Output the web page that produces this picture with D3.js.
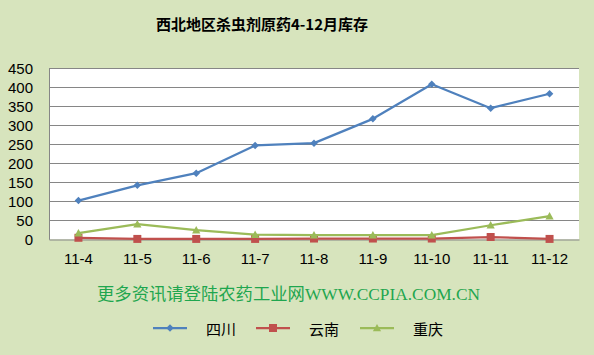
<!DOCTYPE html>
<html><head><meta charset="utf-8">
<script src="https://cdn.jsdelivr.net/npm/d3@7"></script>
<style>html,body{margin:0;padding:0;background:#D7E4BD;}svg{display:block;}</style>
</head><body>
<svg id="c" width="594" height="355"></svg>
<script>
const categories = ["11-4","11-5","11-6","11-7","11-8","11-9","11-10","11-11","11-12"];
const sichuan   = [102,142,174,247,253,317,408,345,383];
const yunnan    = [4,1,1,1,2,2,2,6,1];
const chongqing = [16,40,24,12,11,11,11,37,61];
const seriesNames = ["四川","云南","重庆"];
const yTicks = [0,50,100,150,200,250,300,350,400,450];
const titleText = "西北地区杀虫剂原药4-12月库存";
const footerText = "更多资讯请登陆农药工业网WWW.CCPIA.COM.CN";

const colors = ["#4F81BD","#C0504D","#9BBB59"];
const series = [sichuan, yunnan, chongqing];

const svg = d3.select("#c");
svg.append("rect").attr("width",594).attr("height",355).attr("fill","#D7E4BD");

const L=49, R=579, T=68.3, B=239.3;
const x = d3.scaleBand().domain(categories).range([L,R]).padding(0);
const y = d3.scaleLinear().domain([0,450]).range([B,T]);

svg.append("rect").attr("x",L).attr("y",T).attr("width",R-L).attr("height",B-T).attr("fill","#fff");

// gridlines
svg.append("g").selectAll("line").data(yTicks.filter(d=>d>0)).join("line")
  .attr("x1",L).attr("x2",R).attr("y1",d=>Math.round(y(d))+0.5).attr("y2",d=>Math.round(y(d))+0.5)
  .attr("stroke","#868686").attr("stroke-width",1);

// axes
const yAxis = svg.append("g").attr("transform",`translate(${L},0)`)
  .call(d3.axisLeft(y).tickValues(yTicks).tickSize(0).tickPadding(16));
yAxis.select(".domain").attr("stroke","#868686");
yAxis.selectAll("text").attr("font-family","'Liberation Sans', Arial, sans-serif").attr("font-size","15px").attr("fill","#000");

const xAxis = svg.append("g").attr("transform",`translate(0,${Math.round(B)+0.5})`)
  .call(d3.axisBottom(x).tickSize(0).tickPadding(14));
xAxis.select(".domain").attr("stroke","#868686");
xAxis.selectAll("text").attr("font-family","'Liberation Sans', Arial, sans-serif").attr("font-size","15px").attr("fill","#000");

// symbols
const diamond = {draw(ctx,size){const r=Math.sqrt(size)/2*1.25;ctx.moveTo(0,-r);ctx.lineTo(r,0);ctx.lineTo(0,r);ctx.lineTo(-r,0);ctx.closePath();}};
const square = {draw(ctx,size){const r=Math.sqrt(size)/2;ctx.rect(-r,-r,2*r,2*r);}};
const tri = {draw(ctx,size){const r=Math.sqrt(size)/2*1.1;ctx.moveTo(0,-r);ctx.lineTo(r,r*0.8);ctx.lineTo(-r,r*0.8);ctx.closePath();}};
const symTypes=[diamond,square,tri];
const symSizes=[36,64,56];

const line = d3.line().x((d,i)=>x(categories[i])+x.bandwidth()/2).y(d=>y(d));
series.forEach((s,k)=>{
  const g = svg.append("g");
  g.append("path").datum(s).attr("d",line).attr("fill","none").attr("stroke",colors[k]).attr("stroke-width",2.25).attr("stroke-linejoin","round");
  g.selectAll("path.m").data(s).join("path").attr("class","m")
    .attr("d",d3.symbol().type(symTypes[k]).size(symSizes[k]))
    .attr("transform",(d,i)=>`translate(${x(categories[i])+x.bandwidth()/2},${y(d)})`)
    .attr("fill",colors[k]);
});

// title
svg.append("text").attr("x",262).attr("y",23).attr("text-anchor","middle").attr("dominant-baseline","central")
  .attr("font-family","'Noto Sans CJK SC', sans-serif").attr("font-weight","bold").attr("font-size","15px").attr("fill","#000")
  .text(titleText);

// footer
svg.append("text").attr("x",97).attr("y",294).attr("dominant-baseline","central")
  .attr("font-family","'Liberation Serif','Noto Sans CJK SC', serif").attr("font-size","16.5px").attr("fill","#1FA64F")
  .attr("textLength",383).attr("lengthAdjust","spacingAndGlyphs")
  .text(footerText);

// legend
const legX=[153,256,360];
seriesNames.forEach((n,k)=>{
  const g=svg.append("g");
  g.append("line").attr("x1",legX[k]).attr("x2",legX[k]+34).attr("y1",328).attr("y2",328).attr("stroke",colors[k]).attr("stroke-width",2.25);
  g.append("path").attr("d",d3.symbol().type(symTypes[k]).size(symSizes[k])()).attr("transform",`translate(${legX[k]+17},328)`).attr("fill",colors[k]);
  g.append("text").attr("x",legX[k]+53).attr("y",328).attr("dominant-baseline","central")
    .attr("font-family","'Noto Sans CJK SC', sans-serif").attr("font-size","15px").attr("fill","#000").text(n);
});
</script>
</body></html>
